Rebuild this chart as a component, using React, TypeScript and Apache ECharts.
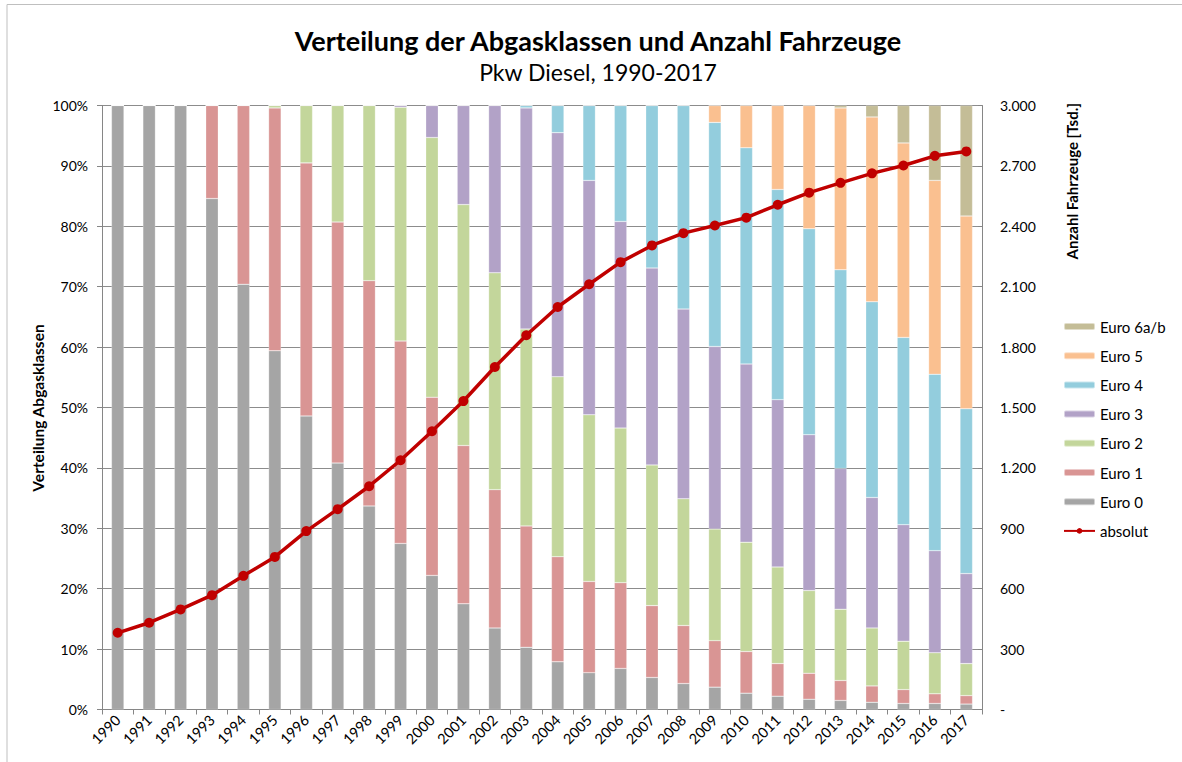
import React, { useEffect, useRef } from "react";
import * as echarts from "echarts";

const years = ["1990","1991","1992","1993","1994","1995","1996","1997","1998","1999","2000","2001","2002","2003","2004","2005","2006","2007","2008","2009","2010","2011","2012","2013","2014","2015","2016","2017"];

const euro0 = [100,100,100,84.6,70.4,59.4,48.6,40.8,33.7,27.5,22.2,17.5,13.5,10.3,7.9,6.1,6.8,5.3,4.3,3.7,2.7,2.2,1.7,1.5,1.2,1.0,1.0,0.9];
const euro1 = [0,0,0,15.4,29.6,40.2,41.9,39.9,37.3,33.5,29.5,26.2,22.9,20.1,17.4,15.1,14.2,11.9,9.6,7.7,6.9,5.4,4.3,3.3,2.7,2.3,1.6,1.4];
const euro2 = [0,0,0,0,0,0.4,9.5,19.3,29.0,38.7,43.0,39.9,35.9,32.6,29.8,27.6,25.6,23.3,21.0,18.5,18.1,16.0,13.7,11.8,9.6,8.0,6.8,5.3];
const euro3 = [0,0,0,0,0,0,0,0,0,0.3,5.3,16.4,27.7,36.6,40.4,38.8,34.2,32.6,31.4,30.2,29.5,27.7,25.8,23.3,21.6,19.3,16.9,14.9];
const euro4 = [0,0,0,0,0,0,0,0,0,0,0,0,0,0.4,4.5,12.4,19.2,26.9,33.7,37.1,35.8,34.8,34.1,32.9,32.4,31.0,29.2,27.3];
const euro5 = [0,0,0,0,0,0,0,0,0,0,0,0,0,0,0,0,0,0,0,2.8,7.0,13.9,20.4,26.8,30.6,32.2,32.1,31.9];
const euro6 = [0,0,0,0,0,0,0,0,0,0,0,0,0,0,0,0,0,0,0,0,0,0,0,0.4,1.9,6.2,12.4,18.3];
const absolut = [381,431,497,568,664,758,886,995,1109,1238,1382,1532,1701,1859,1999,2112,2222,2305,2366,2404,2443,2507,2567,2616,2663,2702,2750,2772];

const seriesNames = ["Euro 0","Euro 1","Euro 2","Euro 3","Euro 4","Euro 5","Euro 6a/b"];
const seriesColors = ["#a5a5a5","#d99594","#c3d69b","#b2a2c7","#93cddd","#fac090","#c4bd97"];
const lineName = "absolut";
const lineColor = "#c00000";

const FONT = "Lato, 'Open Sans', sans-serif";

function fmtThousands(v: number): string {
  if (v === 0) return "-";
  const s = String(Math.round(v));
  return s.replace(/\B(?=(\d{3})+(?!\d))/g, ".");
}

export default function App() {
  const ref = useRef<HTMLDivElement>(null);
  useEffect(() => {
    if (!ref.current) return;
    const chart = echarts.init(ref.current, undefined, { renderer: "svg" });
    const stacks = [euro0, euro1, euro2, euro3, euro4, euro5, euro6];
    const barSeries = stacks.map((d, i) => ({
      name: seriesNames[i],
      type: "bar",
      stack: "total",
      data: d,
      barWidth: 12.5,
      itemStyle: { color: seriesColors[i], borderColor: "rgba(255,255,255,0.5)", borderWidth: 0.5 },
      yAxisIndex: 0,
    }));
    chart.setOption({
      animation: false,
      backgroundColor: "#ffffff",
      textStyle: { fontFamily: FONT },
      graphic: [
        { type: "line", shape: { x1: 7, y1: 4.5, x2: 1182, y2: 4.5 }, style: { stroke: "#bfbfbf", lineWidth: 1 } },
        { type: "line", shape: { x1: 7, y1: 4.5, x2: 7, y2: 762 }, style: { stroke: "#bfbfbf", lineWidth: 1 } },
        { type: "text", x: 598, y: 40, style: { text: "Verteilung der Abgasklassen und Anzahl Fahrzeuge", font: "bold 27px " + FONT, fill: "#000", textAlign: "center", textVerticalAlign: "middle" } },
        { type: "text", x: 598, y: 72, style: { text: "Pkw Diesel, 1990-2017", font: "23px " + FONT, fill: "#000", textAlign: "center", textVerticalAlign: "middle" } },
        { type: "text", x: 38, y: 408, rotation: Math.PI / 2, style: { text: "Verteilung Abgasklassen", font: "bold 15.5px " + FONT, fill: "#000", textAlign: "center", textVerticalAlign: "middle" } },
        { type: "text", x: 1072, y: 103, rotation: Math.PI / 2, style: { text: "Anzahl Fahrzeuge [Tsd.]", font: "bold 15px " + FONT, fill: "#000", textAlign: "right", textVerticalAlign: "middle" } },
      ],
      legend: {
        orient: "vertical",
        left: 1058,
        top: 314,
        itemWidth: 31,
        itemHeight: 7,
        itemGap: 14.2,
        textStyle: { fontSize: 15, color: "#000", fontFamily: FONT },
        data: ["Euro 6a/b","Euro 5","Euro 4","Euro 3","Euro 2","Euro 1","Euro 0", lineName],
      },
      grid: { left: 102, right: 200, top: 105.5, bottom: 52.5 },
      xAxis: {
        type: "category",
        data: years,
        boundaryGap: true,
        axisLine: { lineStyle: { color: "#868686" } },
        axisTick: { show: true, length: 5, lineStyle: { color: "#868686" } },
        axisLabel: { rotate: 45, interval: 0, fontSize: 14.5, color: "#000", margin: 8, fontFamily: FONT },
      },
      yAxis: [
        {
          type: "value",
          min: 0,
          max: 100,
          interval: 10,
          axisLine: { show: true, lineStyle: { color: "#868686" } },
          axisTick: { show: true, length: 5, lineStyle: { color: "#868686" } },
          axisLabel: { formatter: "{value}%", fontSize: 14, color: "#000", margin: 14, fontFamily: FONT },
          splitLine: { lineStyle: { color: "#8c8c8c", width: 1 } },
        },
        {
          type: "value",
          min: 0,
          max: 3000,
          interval: 300,
          position: "right",
          axisLine: { show: true, lineStyle: { color: "#868686" } },
          axisTick: { show: true, inside: true, length: 4, lineStyle: { color: "#868686" } },
          axisLabel: { formatter: (v: number) => fmtThousands(v), fontSize: 14, color: "#000", margin: 18, fontFamily: FONT },
          splitLine: { show: false },
        },
      ],
      series: [
        ...barSeries,
        {
          name: lineName,
          type: "line",
          yAxisIndex: 1,
          data: absolut,
          symbol: "circle",
          symbolSize: 10,
          z: 10,
          lineStyle: { color: lineColor, width: 3.5 },
          itemStyle: { color: lineColor },
        },
      ],
    });
    return () => chart.dispose();
  }, []);
  return <div ref={ref} style={{ position: "fixed", left: 0, top: 0, width: 1182, height: 762 }} />;
}
